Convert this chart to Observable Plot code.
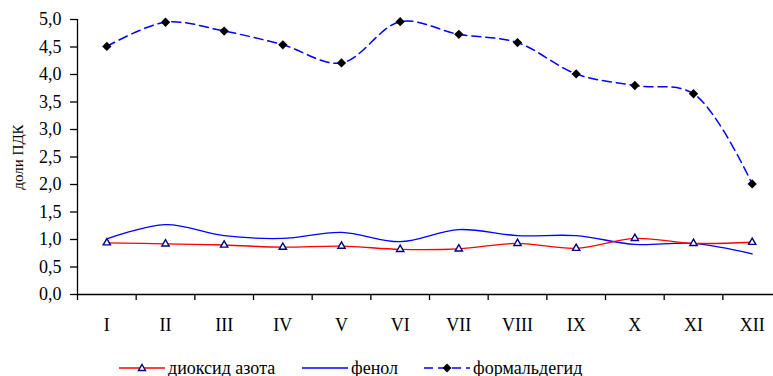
<!DOCTYPE html>
<html>
<head>
<meta charset="utf-8">
<script src="https://cdn.jsdelivr.net/npm/d3@7"></script>
<script src="https://cdn.jsdelivr.net/npm/@observablehq/plot@0.6"></script>
<style>
  html, body { margin: 0; padding: 0; background: #fff; }
  #wrap { position: relative; width: 773px; height: 376px; overflow: hidden; font-family: "Liberation Serif", "Times New Roman", serif; }
  #legend { position: absolute; left: 0; top: 357px; width: 773px; height: 22px; font-size: 18px; color: #000; }
  .item { position: absolute; top: 0; display: flex; align-items: center; height: 22px; white-space: nowrap; }
  .item svg { margin-right: 3px; }
</style>
</head>
<body>
<div id="wrap">
  <div id="chart"></div>
  <div id="legend"></div>
</div>
<script>
const months = ["I","II","III","IV","V","VI","VII","VIII","IX","X","XI","XII"];
const no2 = [0.94,0.92,0.90,0.86,0.88,0.82,0.83,0.93,0.84,1.02,0.93,0.95];
const phenol = [1.01,1.27,1.07,1.02,1.13,0.96,1.18,1.07,1.07,0.91,0.93,0.74];
const formaldehyde = [4.51,4.95,4.79,4.54,4.21,4.96,4.73,4.58,4.01,3.80,3.65,2.01];
const yTicks = [0,0.5,1,1.5,2,2.5,3,3.5,4,4.5,5];
const seriesNames = ["диоксид азота","фенол","формальдегид"];
const yLabel = "доли ПДК";

const rows = months.map((m, i) => ({m, pos: i + 0.5, no2: no2[i], phenol: phenol[i], form: formaldehyde[i]}));
const boundaries = d3.range(0, months.length + 1);
const comma = d => d.toFixed(1).replace(".", ",");

const chart = Plot.plot({
  width: 773,
  height: 345,
  marginLeft: 77,
  marginRight: 0,
  marginTop: 19,
  marginBottom: 51,
  style: {fontFamily: '"Liberation Serif", "Times New Roman", serif', fontSize: "18px", color: "#000", background: "#fff"},
  x: {type: "linear", domain: [0, 12], range: [77, 781]},
  y: {domain: [0, 5]},
  marks: [
    Plot.axisY(yTicks, {tickSize: 7, tickPadding: 9, tickFormat: comma, strokeWidth: 1.3, label: null}),
    Plot.text([yLabel], {frameAnchor: "left", textAnchor: "middle", rotate: -90, dx: -59, fontSize: 15}),
    Plot.axisX(boundaries, {tickSize: 6, tickFormat: () => "", strokeWidth: 1.3, label: null}),
    Plot.axisX(rows.map(r => r.pos), {tickSize: 0, tickPadding: 24, tickFormat: d => months[Math.round(d - 0.5)], label: null}),
    Plot.ruleX([0], {stroke: "#000", strokeWidth: 1.3}),
    Plot.ruleY([0], {stroke: "#000", strokeWidth: 1.3}),
    Plot.line(rows, {x: "pos", y: "phenol", stroke: "#0000ff", strokeWidth: 1.3, curve: "catmull-rom"}),
    Plot.line(rows, {x: "pos", y: "no2", stroke: "#ff0000", strokeWidth: 1.3, curve: "catmull-rom"}),
    Plot.line(rows, {x: "pos", y: "form", stroke: "#0000ff", strokeWidth: 1.5, strokeDasharray: "9,5", curve: "catmull-rom"}),
    Plot.dot(rows, {x: "pos", y: "no2", symbol: "triangle", r: 2.7, fill: "#fff", stroke: "#000080", strokeWidth: 1.4}),
    Plot.dot(rows, {x: "pos", y: "form", symbol: "diamond2", r: 4.2, fill: "#000", stroke: "none"})
  ]
});
document.getElementById("chart").appendChild(chart);

// legend
const legend = document.getElementById("legend");
const items = [
  {name: seriesNames[0], left: 119, svg: '<svg width="46" height="12"><line x1="0" y1="6" x2="46" y2="6" stroke="#ff0000" stroke-width="1.3"/><path d="M23,2.5 L26.5,8.5 L19.5,8.5 Z" fill="#fff" stroke="#000080" stroke-width="1.4"/></svg>'},
  {name: seriesNames[1], left: 302, svg: '<svg width="46" height="12"><line x1="0" y1="6" x2="46" y2="6" stroke="#0000ff" stroke-width="1.3"/></svg>'},
  {name: seriesNames[2], left: 424, svg: '<svg width="46" height="12"><line x1="0" y1="6" x2="46" y2="6" stroke="#0000ff" stroke-width="1.5" stroke-dasharray="9,5"/><path d="M23,1.5 L27.5,6 L23,10.5 L18.5,6 Z" fill="#000"/></svg>'}
];
for (const it of items) {
  const div = document.createElement("div");
  div.className = "item";
  div.style.left = it.left + "px";
  div.innerHTML = it.svg + "<span>" + it.name + "</span>";
  legend.appendChild(div);
}
</script>
</body>
</html>
